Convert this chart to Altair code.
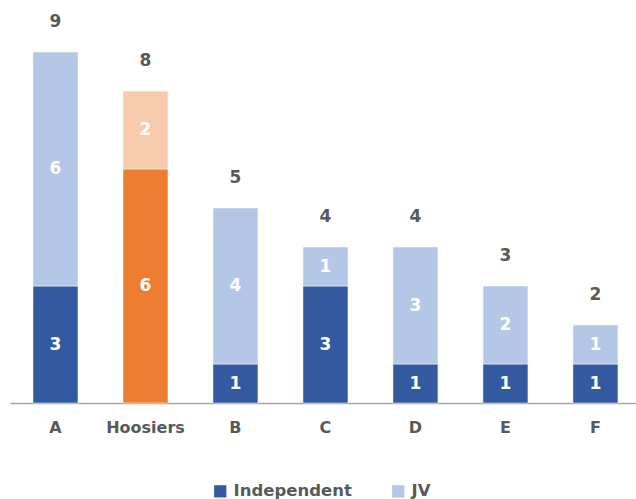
import altair as alt
import pandas as pd

teams = ["A", "Hoosiers", "B", "C", "D", "E", "F"]
independent = [3, 6, 1, 3, 1, 1, 1]
jv = [6, 2, 4, 1, 3, 2, 1]

highlight = "Hoosiers"
series_names = ["Independent", "JV"]
colors = {
    "Independent": "#335AA0",
    "JV": "#B4C7E7",
    "Hoosiers Independent": "#ED7D31",
    "Hoosiers JV": "#F8CBAD",
}

rows = []
for t, i_val, j_val in zip(teams, independent, jv):
    for order, (s, v) in enumerate(zip(series_names, [i_val, j_val])):
        key = f"{highlight} {s}" if t == highlight else s
        rows.append({"team": t, "series": s, "key": key, "value": v, "order": order})
df = pd.DataFrame(rows)

totals = pd.DataFrame({"team": teams, "total": [a + b for a, b in zip(independent, jv)]})

FONT = "DejaVu Sans"
GRAY = "#595959"

x_enc = alt.X(
    "team:N",
    sort=teams,
    title=None,
    scale=alt.Scale(paddingInner=0.5, paddingOuter=0.228, align=0.56),
    axis=alt.Axis(
        labelAngle=0,
        labelFont=FONT,
        labelFontSize=16,
        labelFontWeight="bold",
        labelColor=GRAY,
        labelPadding=16,
        ticks=False,
        domainColor="#A6A6A6",
        domainWidth=1.5,
        grid=False,
    ),
)
y_scale = alt.Scale(domain=[0, 10])

base = alt.Chart(df).transform_stack(
    stack="value", groupby=["team"], sort=[alt.SortField("order")], as_=["v0", "v1"]
)

bars = base.mark_bar(stroke="white", strokeWidth=0.5).encode(
    x=x_enc,
    y=alt.Y("v0:Q", scale=y_scale, axis=None),
    y2="v1:Q",
    color=alt.Color(
        "key:N",
        scale=alt.Scale(domain=list(colors.keys()), range=list(colors.values())),
        legend=alt.Legend(
            title=None,
            values=series_names,
            orient="none",
            legendX=202,
            legendY=470,
            direction="horizontal",
            symbolType="square",
            symbolSize=150,
            symbolStrokeWidth=0,
            labelFont=FONT,
            labelFontSize=16.5,
            labelFontWeight="bold",
            labelColor=GRAY,
            labelOffset=5,
            columnPadding=38,
            padding=0,
        ),
    ),
)

inner = base.transform_calculate(mid="(datum.v0 + datum.v1) / 2").mark_text(
    color="white", font=FONT, fontSize=17, fontWeight="bold", baseline="middle"
).encode(
    x=x_enc,
    y=alt.Y("mid:Q", scale=y_scale, axis=None),
    text="value:Q",
)

top = alt.Chart(totals).mark_text(
    color=GRAY, font=FONT, fontSize=17, fontWeight="bold", baseline="middle", dy=-30
).encode(
    x=x_enc,
    y=alt.Y("total:Q", scale=y_scale, axis=None),
    text="total:Q",
)

chart = (
    alt.layer(bars, inner, top)
    .properties(
        width=626,
        height=390,
        autosize=alt.AutoSizeParams(type="none"),
        padding={"left": 10, "top": 13, "right": 0, "bottom": 96},
    )
    .configure_view(stroke=None)
)

chart.save("out.html", embed_options={"renderer": "svg", "actions": False})
